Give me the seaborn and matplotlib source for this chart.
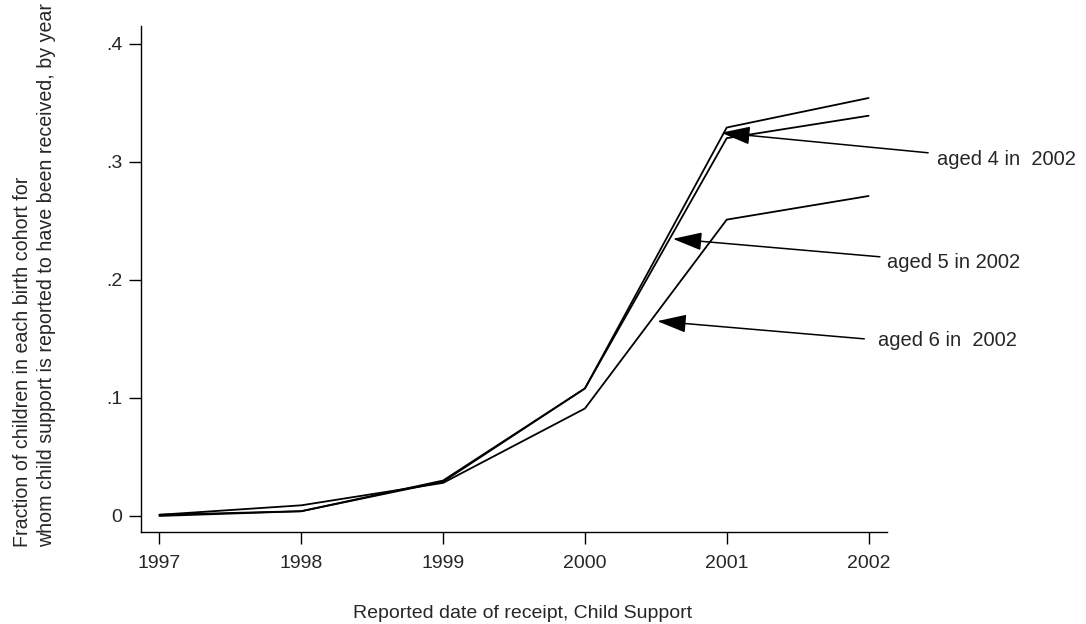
import matplotlib
matplotlib.use("Agg")
import matplotlib.pyplot as plt
import seaborn as sns
import pandas as pd

# data
years = [1997, 1998, 1999, 2000, 2001, 2002]
aged4 = [0.000, 0.004, 0.029, 0.108, 0.320, 0.339]
aged5 = [0.001, 0.004, 0.030, 0.108, 0.329, 0.354]
aged6 = [0.001, 0.009, 0.028, 0.091, 0.251, 0.271]
cohorts = ["aged 4 in  2002", "aged 5 in 2002", "aged 6 in  2002"]
y_ticks = [0, 0.1, 0.2, 0.3, 0.4]
y_tick_labels = ["0", ".1", ".2", ".3", ".4"]

# arrow targets (head) and label anchors, in data units
arrow_heads = [(2000.96, 0.3246), (2000.62, 0.2347), (2000.51, 0.165)]
arrow_tails = [(2002.42, 0.3076), (2002.08, 0.2195), (2001.97, 0.150)]
label_pos = [(2002.48, 0.302), (2002.13, 0.215), (2002.07, 0.149)]

df = pd.DataFrame({
    "year": years * 3,
    "share": aged4 + aged5 + aged6,
    "cohort": [c for c in cohorts for _ in years],
})

sns.set_style("ticks")
plt.rcParams["font.family"] = ["Liberation Sans", "DejaVu Sans"]
plt.rcParams["font.size"] = 14

fig = plt.figure(figsize=(10.86, 6.24), dpi=100)
ax = fig.add_axes([141 / 1086, 1 - 532 / 624, (887 - 141) / 1086, (532 - 26) / 624])

sns.lineplot(data=df, x="year", y="share", hue="cohort",
             palette=["black"] * 3, linewidth=1.3, legend=False, ax=ax)

ax.set_xlim(1996.87, 2002.13)
ax.set_ylim(-0.0136, 0.415)
ax.set_xticks(years)
ax.set_xticklabels([str(y) for y in years])
ax.set_yticks(y_ticks)
ax.set_yticklabels(y_tick_labels)
ax.tick_params(direction="out", length=8.5, width=1.0, color="black",
               labelsize=14, pad=5, left=True, bottom=True)
ax.tick_params(axis="x", pad=8)
ax.set_xlabel("")
ax.set_ylabel("")
for side in ["top", "right"]:
    ax.spines[side].set_visible(False)
for side in ["left", "bottom"]:
    ax.spines[side].set_linewidth(1.0)
    ax.spines[side].set_color("black")

# arrows with labels
for head, tail, pos, txt in zip(arrow_heads, arrow_tails, label_pos, cohorts):
    ax.annotate("", xy=head, xytext=tail, annotation_clip=False,
                arrowprops=dict(arrowstyle="-|>,head_length=0.9,head_width=0.28",
                                color="black", lw=1.1, mutation_scale=20,
                                shrinkA=0, shrinkB=0))
    ax.text(pos[0], pos[1], txt, ha="left", va="center", fontsize=14.5,
            clip_on=False)

fig.text(523 / 1086, 1 - 618 / 624, "Reported date of receipt, Child Support",
         ha="center", va="baseline", fontsize=14)
fig.text(13 / 1086, 1 - 547 / 624,
         "Fraction of children in each birth cohort for\n"
         "whom child support is reported to have been received, by year",
         rotation=90, ha="left", va="bottom", multialignment="left",
         fontsize=14.1, linespacing=1.35)

fig.savefig("out.png", dpi=100)
